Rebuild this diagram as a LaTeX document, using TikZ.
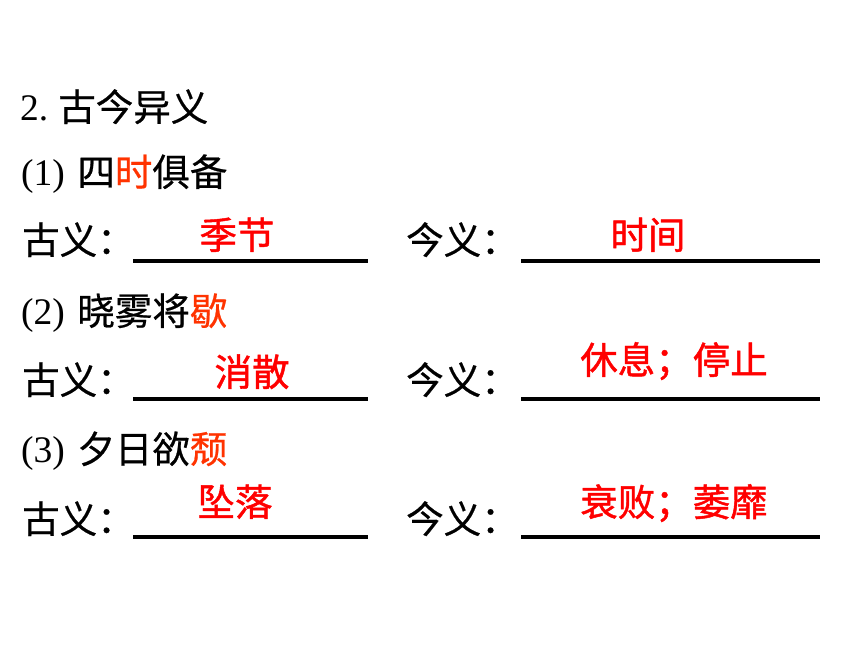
\documentclass[tikz,border=0pt]{standalone}
\usepackage{fontspec}
\setmainfont{Liberation Serif}
\newfontfamily\cjk[FakeBold=0.6]{Noto Sans CJK SC}
\newfontfamily\cjkans[FakeBold=1.2]{Noto Sans CJK SC}
\definecolor{hilite}{HTML}{FF3300}
\definecolor{answer}{HTML}{FF0000}
\tikzset{
  txt/.style={anchor=base west, inner sep=0pt, font=\fontsize{37.5}{45}\selectfont},
  ans/.style={anchor=base, inner sep=0pt, text=answer, font=\fontsize{37.5}{45}\selectfont\cjkans},
  blank/.style={line width=3.6pt, black},
}
\begin{document}
\begin{tikzpicture}[x=1pt,y=1pt]
\useasboundingbox[fill=white] (0,0) rectangle (860,645);
% title
\node[txt] (title) at (20,524) {2.\hspace{10pt}{\cjk 古今异义}};
% item 1
\node[txt] (i1) at (21,459) {(1)\hspace{12.5pt}{\cjk 四{\color{hilite}时}俱备}};
\node[txt] (g1) at (22,391) {\cjk 古义：};
\node[txt] (j1) at (406,391) {\cjk 今义：};
\coordinate (g1a) at (133,384); \coordinate (g1b) at (368,384);
\coordinate (j1a) at (521,384); \coordinate (j1b) at (820,384);
\draw[blank] (g1a) -- (g1b);
\draw[blank] (j1a) -- (j1b);
\node[ans] (a1) at (237,396) {季节};
\node[ans] (b1) at (648,396) {时间};
% item 2
\node[txt] (i2) at (21,320) {(2)\hspace{12.5pt}{\cjk 晓雾将{\color{hilite}歇}}};
\node[txt] (g2) at (22,251) {\cjk 古义：};
\node[txt] (j2) at (406,251) {\cjk 今义：};
\coordinate (g2a) at (133,246); \coordinate (g2b) at (368,246);
\coordinate (j2a) at (521,246); \coordinate (j2b) at (820,246);
\draw[blank] (g2a) -- (g2b);
\draw[blank] (j2a) -- (j2b);
\node[ans] (a2) at (252,259) {消散};
\node[ans] (b2) at (674,271) {休息；停止};
% item 3
\node[txt] (i3) at (21,182) {(3)\hspace{12.5pt}{\cjk 夕日欲{\color{hilite}颓}}};
\node[txt] (g3) at (22,112) {\cjk 古义：};
\node[txt] (j3) at (406,112) {\cjk 今义：};
\coordinate (g3a) at (133,108); \coordinate (g3b) at (368,108);
\coordinate (j3a) at (521,108); \coordinate (j3b) at (820,108);
\draw[blank] (g3a) -- (g3b);
\draw[blank] (j3a) -- (j3b);
\node[ans] (a3) at (235,129) {坠落};
\node[ans] (b3) at (674,129) {衰败；萎靡};
\end{tikzpicture}
\end{document}
